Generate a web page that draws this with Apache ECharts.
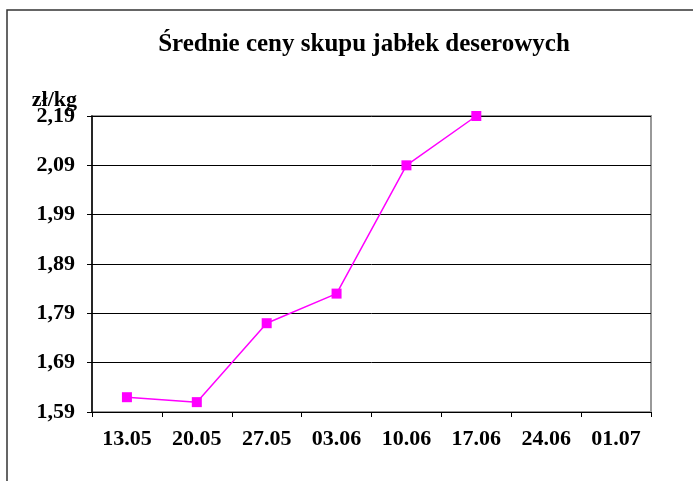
<!DOCTYPE html>
<html>
<head>
<meta charset="utf-8">
<script src="https://cdn.jsdelivr.net/npm/echarts@6/dist/echarts.min.js"></script>
<style>
  html, body { margin: 0; padding: 0; background: #fff; }
  #chart { width: 693px; height: 481px; }
</style>
</head>
<body>
<div id="chart"></div>
<script>
// dane z wykresu
var dates = ['13.05', '20.05', '27.05', '03.06', '10.06', '17.06', '24.06', '01.07'];
var prices = [1.62, 1.61, 1.77, 1.83, 2.09, 2.19, null, null];
var yTicks = [1.59, 1.69, 1.79, 1.89, 1.99, 2.09, 2.19];

var font = 'Liberation Serif';
var myChart = echarts.init(document.getElementById('chart'));

var option = {
    backgroundColor: '#fff',
    animation: false,
    title: {
        text: 'Średnie ceny skupu jabłek deserowych',
        left: 359,
        textAlign: 'center',
        top: 27,
        textStyle: { fontFamily: font, fontSize: 25, fontWeight: 'bold', color: '#000' }
    },
    graphic: [{
        type: 'rect',
        shape: { x: 7, y: 10, width: 700, height: 500 },
        style: { fill: null, stroke: '#333', lineWidth: 1.5 },
        silent: true
    }],
    grid: {
        left: 92, right: 42, top: 116, bottom: 69,
        show: true,
        borderColor: '#999',
        borderWidth: 2
    },
    xAxis: {
        type: 'category',
        data: dates,
        boundaryGap: true,
        axisLine: { lineStyle: { color: '#000', width: 1 } },
        axisTick: { show: true, length: 5, lineStyle: { color: '#000' } },
        axisLabel: { margin: 16, color: '#000', fontFamily: font, fontSize: 22, fontWeight: 'bold' }
    },
    yAxis: {
        type: 'value',
        min: 1.59,
        max: 2.19,
        name: 'zł/kg',
        nameLocation: 'end',
        nameGap: 16,
        nameMoveOverlap: false,
        nameTextStyle: {
            fontFamily: font, fontSize: 22, fontWeight: 'bold', color: '#000',
            align: 'right', verticalAlign: 'middle', padding: [0, 15, 0, 0]
        },
        axisLine: { show: true, lineStyle: { color: '#000', width: 1.5 } },
        axisTick: { show: true, length: 5, customValues: yTicks, lineStyle: { color: '#000' } },
        axisLabel: {
            customValues: yTicks,
            margin: 17,
            color: '#000', fontFamily: font, fontSize: 22, fontWeight: 'bold',
            formatter: function (v) { return v.toFixed(2).replace('.', ','); }
        },
        splitLine: { show: true, lineStyle: { color: '#000', width: 1 } }
    },
    series: [{
        type: 'line',
        data: prices,
        connectNulls: false,
        symbol: 'rect',
        symbolSize: 10,
        itemStyle: { color: '#ff00ff' },
        lineStyle: { color: '#ff00ff', width: 1.5 }
    }]
};

myChart.setOption(option, true);
</script>
</body>
</html>
